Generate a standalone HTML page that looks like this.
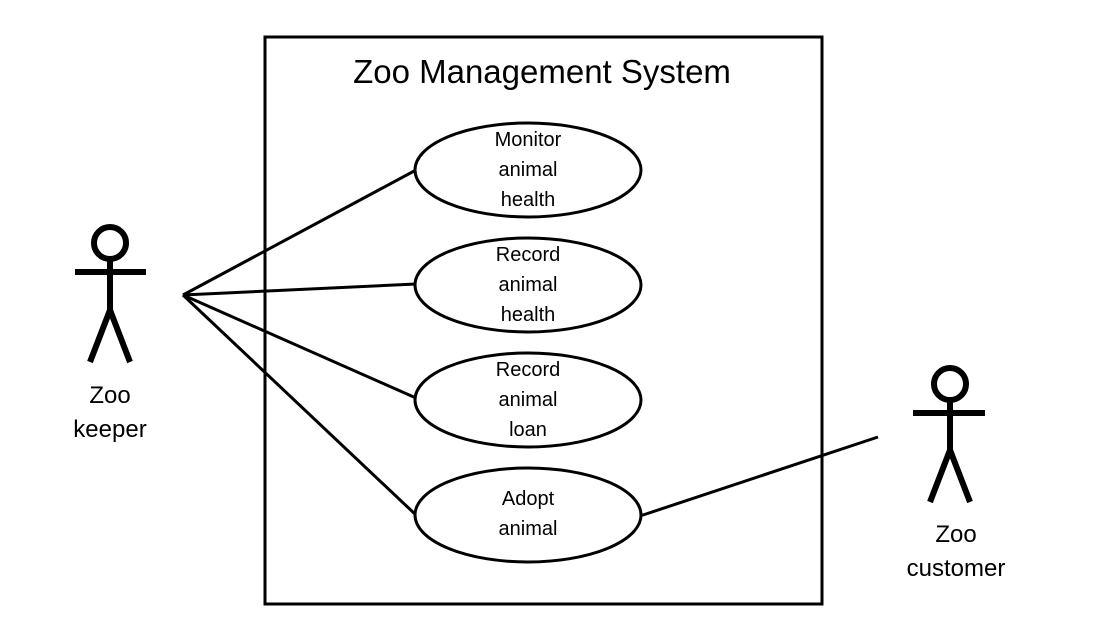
<!DOCTYPE html>
<html><head><style>body{margin:0;background:#fff}</style></head><body>
<svg width="1098" height="612" xmlns="http://www.w3.org/2000/svg" font-family="Liberation Sans, sans-serif">
<rect x="265" y="37" width="557" height="567" fill="none" stroke="#000" stroke-width="3"/>
<text x="542" y="83" font-size="33" text-anchor="middle">Zoo Management System</text>
<g stroke="#000" stroke-width="3" fill="none">
<line x1="183" y1="295" x2="416" y2="170"/>
<line x1="183" y1="295" x2="416" y2="284"/>
<line x1="183" y1="295" x2="416" y2="398"/>
<line x1="183" y1="295" x2="416" y2="515"/>
<line x1="640" y1="516" x2="878" y2="437"/>
<ellipse cx="528" cy="170" rx="113" ry="47" fill="#fff"/>
<ellipse cx="528" cy="285" rx="113" ry="47" fill="#fff"/>
<ellipse cx="528" cy="400" rx="113" ry="47" fill="#fff"/>
<ellipse cx="528" cy="515" rx="113" ry="47" fill="#fff"/>
</g>
<g font-size="20" text-anchor="middle">
<text x="528" y="146">Monitor</text><text x="528" y="176">animal</text><text x="528" y="206">health</text>
<text x="528" y="261">Record</text><text x="528" y="291">animal</text><text x="528" y="321">health</text>
<text x="528" y="376">Record</text><text x="528" y="406">animal</text><text x="528" y="436">loan</text>
<text x="528" y="505">Adopt</text><text x="528" y="535">animal</text>
</g>
<g stroke="#000" stroke-width="6" fill="none">
<circle cx="110" cy="243" r="16"/>
<line x1="75" y1="272" x2="146" y2="272"/>
<line x1="110" y1="259" x2="110" y2="310"/>
<polyline points="90,362 110,310 130,362"/>
<circle cx="950" cy="384" r="16"/>
<line x1="913" y1="413" x2="985" y2="413"/>
<line x1="950" y1="400" x2="950" y2="450"/>
<polyline points="930,502 950,450 970,502"/>
</g>
<g font-size="24" text-anchor="middle">
<text x="110" y="403">Zoo</text><text x="110" y="437">keeper</text>
<text x="956" y="542">Zoo</text><text x="956" y="576">customer</text>
</g>
</svg>
</body></html>
